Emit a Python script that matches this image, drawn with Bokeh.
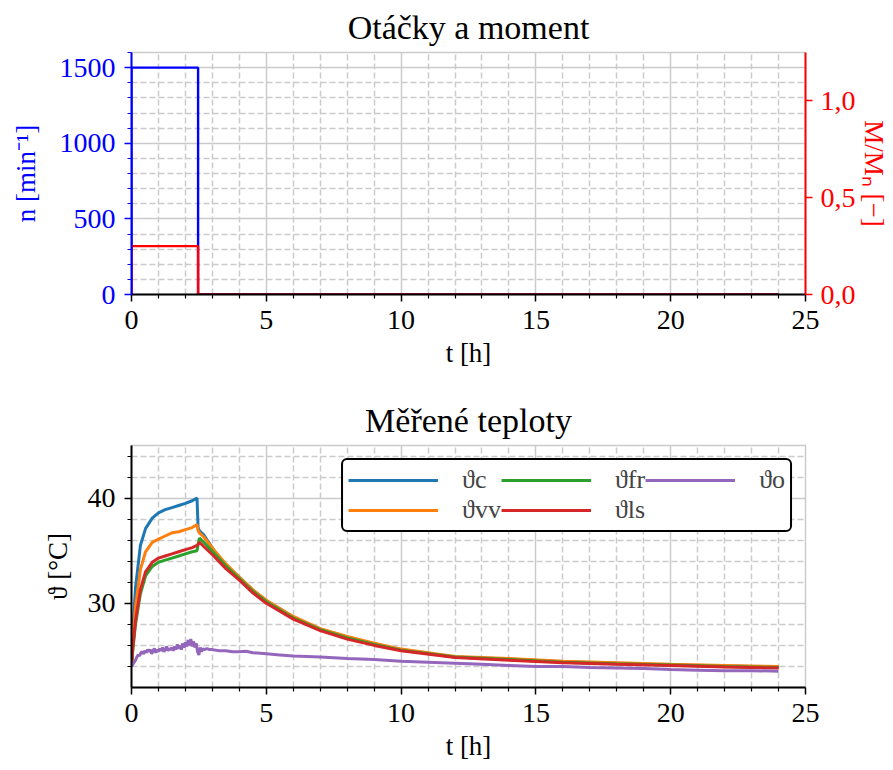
from bokeh.plotting import figure
from bokeh.models import (Range1d, LinearAxis, FixedTicker, Legend, LegendItem,
                          CustomJSTickFormatter)
from bokeh.layouts import column
from bokeh.embed import file_html
from bokeh.resources import INLINE

FONT = "Liberation Serif"
GRID = "#cbcbcb"

# ---------------- data: speed & torque ----------------
t_n = [0.0, 0.0, 2.47, 2.47, 24.0]
n_rpm = [0, 1500, 1500, 0, 0]
t_m = [0.0, 0.0, 2.47, 2.47, 24.0]
m_rel = [0.0, 0.25, 0.25, 0.0, 0.0]

# ---------------- data: temperatures ----------------
t_main = [0.0, 0.05, 0.15, 0.33, 0.52, 0.77, 1.0, 1.25, 1.5, 1.75, 2.0, 2.25, 2.43,
          2.47, 2.52, 2.68, 3.05, 3.5, 4.0, 4.5, 5.0, 6.0, 7.0, 8.0, 9.0, 10.0,
          12.0, 14.0, 16.0, 18.0, 20.0, 22.0, 24.0]
theta_c = [24.0, 27.5, 31.5, 35.5, 37.1, 38.1, 38.6, 38.9, 39.1, 39.3, 39.5, 39.75, 40.0,
           37.2, 36.9, 36.5, 35.05, 33.65, 32.45, 31.25, 30.25, 28.7, 27.55, 26.8, 26.15, 25.6,
           24.9, 24.7, 24.45, 24.3, 24.15, 24.05, 23.95]
theta_vv = [24.0, 26.5, 29.7, 33.2, 34.9, 35.8, 36.1, 36.4, 36.7, 36.8, 37.0, 37.2, 37.5,
            36.9, 36.7, 36.3, 35.1, 33.75, 32.5, 31.3, 30.3, 28.75, 27.6, 26.85, 26.2, 25.65,
            24.95, 24.75, 24.5, 24.35, 24.2, 24.1, 24.0]
theta_fr = [24.0, 25.6, 28.0, 30.9, 32.6, 33.5, 33.9, 34.1, 34.3, 34.5, 34.7, 34.9, 35.0,
            35.6, 36.2, 35.8, 34.8, 33.55, 32.35, 31.15, 30.15, 28.6, 27.5, 26.7, 26.1, 25.55,
            24.9, 24.65, 24.4, 24.25, 24.15, 24.0, 23.9]
theta_ls = [24.0, 25.8, 28.4, 31.3, 33.0, 33.9, 34.3, 34.5, 34.7, 34.9, 35.1, 35.3, 35.5,
            35.6, 35.8, 35.4, 34.5, 33.3, 32.2, 31.0, 30.0, 28.5, 27.4, 26.6, 26.0, 25.5,
            24.85, 24.6, 24.35, 24.2, 24.1, 23.95, 23.85]

t_o = [0.00, 0.05, 0.10, 0.15, 0.20, 0.25, 0.30, 0.35, 0.40, 0.45, 0.50, 0.55, 0.60,
       0.65, 0.70, 0.75, 0.80, 0.85, 0.90, 0.95, 1.00, 1.05, 1.10, 1.15, 1.20, 1.25,
       1.30, 1.35, 1.40, 1.45, 1.50, 1.55, 1.60, 1.65, 1.70, 1.75, 1.80, 1.85, 1.90,
       1.95, 2.00, 2.05, 2.10, 2.15, 2.20, 2.25, 2.30, 2.35, 2.40, 2.45, 2.50, 2.55,
       2.60, 2.65, 2.70, 2.80, 2.90, 3.0, 3.25, 3.5, 3.75, 4.0, 4.25, 4.5, 5.0, 5.5,
       6.0, 7.0, 8.0, 9.0, 10.0, 11.0, 12.0, 13.0, 14.0, 15.0, 16.0, 17.0, 18.0, 19.0,
       20.0, 21.0, 22.0, 23.0, 24.0]
theta_o = [24.0, 24.2, 24.4, 24.6, 24.9, 25.1, 25.0, 25.3, 25.4, 25.2, 25.5, 25.3, 25.6,
           25.4, 25.6, 25.2, 25.5, 25.7, 25.3, 25.6, 25.4, 25.7, 25.5, 25.8, 25.4, 25.6,
           25.9, 25.5, 25.7, 25.6, 25.8, 25.5, 25.9, 25.6, 26.1, 25.7, 26.0, 25.6, 26.2,
           25.8, 26.3, 25.9, 26.5, 26.0, 26.6, 25.9, 26.4, 25.8, 26.2, 25.4, 25.1, 25.8,
           25.4, 25.7, 25.6, 25.7, 25.6, 25.6, 25.5, 25.5, 25.4, 25.4, 25.45, 25.3, 25.2, 25.1,
           25.0, 24.9, 24.75, 24.65, 24.5, 24.4, 24.3, 24.2, 24.1, 24.0, 24.0, 23.9, 23.85, 23.8,
           23.7, 23.65, 23.6, 23.6, 23.55]

series = [("ϑc", theta_c, "#1f77b4"), ("ϑvv", theta_vv, "#ff7f0e"),
          ("ϑfr", theta_fr, "#2ca02c"), ("ϑls", theta_ls, "#d62728")]

x_major = [0, 5, 10, 15, 20, 25]
x_minor = [i for i in range(26) if i % 5]


def style_axis(ax, color="black", minor=True):
    ax.axis_line_color = color
    ax.axis_line_width = 2
    ax.major_tick_line_color = color
    ax.major_tick_line_width = 1.5
    ax.minor_tick_line_color = color
    ax.minor_tick_line_width = 1.2
    ax.major_tick_out = 7
    ax.major_tick_in = 0
    ax.minor_tick_out = 4 if minor else 0
    ax.minor_tick_in = 0
    ax.major_label_text_font = FONT
    ax.major_label_text_font_size = "28px"
    ax.major_label_text_color = color
    ax.major_label_standoff = 9
    ax.axis_label_text_font = FONT
    ax.axis_label_text_font_size = "27px"
    ax.axis_label_text_font_style = "normal"
    ax.axis_label_text_color = color
    ax.axis_label_standoff = 6


def style_fig(p):
    p.title.text_font = FONT
    p.title.text_font_size = "34px"
    p.title.text_font_style = "normal"
    p.title.text_color = "black"
    p.title.align = "center"
    p.title.standoff = 13
    p.outline_line_color = GRID
    p.outline_line_width = 1.5
    p.background_fill_color = "white"
    p.border_fill_color = "white"
    for g in (p.xgrid[0], p.ygrid[0]):
        g.grid_line_color = GRID
        g.grid_line_width = 1.5
        g.minor_grid_line_color = GRID
        g.minor_grid_line_width = 1.5
        g.minor_grid_line_dash = "6 3"


# ---------------- top figure ----------------
p1 = figure(width=893, height=390, x_range=Range1d(0, 25), y_range=Range1d(0, 1600),
            output_backend="svg", toolbar_location=None, title="Otáčky a moment",
            min_border_left=131, min_border_right=88, min_border_top=52, min_border_bottom=96)
p1.extra_y_ranges = {"m": Range1d(0, 1.25)}
p1.xaxis.ticker = FixedTicker(ticks=x_major, minor_ticks=x_minor)
p1.yaxis.ticker = FixedTicker(ticks=[0, 500, 1000, 1500],
                              minor_ticks=[v for v in range(0, 1601, 100) if v % 500])
p1.xaxis.axis_label = "t [h]"
p1.yaxis.axis_label = "n [min⁻¹]"
style_axis(p1.xaxis[0])
style_axis(p1.yaxis[0], color="#0000ff")
p1.yaxis[0].axis_label_standoff = 16
style_fig(p1)

rax = LinearAxis(y_range_name="m", ticker=FixedTicker(ticks=[0, 0.5, 1.0]),
                 formatter=CustomJSTickFormatter(code="return tick.toFixed(1).replace('.', ',');"),
                 axis_label="M/Mₙ [−]")
style_axis(rax, color="#ff0000", minor=False)
rax.major_label_standoff = 8
rax.axis_label_standoff = 0
p1.add_layout(rax, "right")

p1.line(t_n, n_rpm, line_color="#0000ff", line_width=2.4)
p1.line(t_m, m_rel, y_range_name="m", line_color="#ff0000", line_width=2.4)

# ---------------- bottom figure ----------------
p2 = figure(width=893, height=380, x_range=Range1d(0, 25), y_range=Range1d(22, 45),
            output_backend="svg", toolbar_location=None, title="Měřené teploty",
            min_border_left=131, min_border_right=88, min_border_top=55, min_border_bottom=83)
p2.xaxis.ticker = FixedTicker(ticks=x_major, minor_ticks=x_minor)
p2.yaxis.ticker = FixedTicker(ticks=[30, 40], minor_ticks=[24, 26, 28, 32, 34, 36, 38, 42, 44])
p2.xaxis.axis_label = "t [h]"
p2.yaxis.axis_label = "ϑ [°C]"
style_axis(p2.xaxis[0])
style_axis(p2.yaxis[0])
p2.yaxis[0].axis_label_standoff = 12
style_fig(p2)

items = []
for lab, ys, col in series:
    r = p2.line(t_main, ys, line_color=col, line_width=3)
    items.append(LegendItem(label=lab, renderers=[r]))
r_o = p2.line(t_o, theta_o, line_color="#9467bd", line_width=3)
items.append(LegendItem(label="ϑo", renderers=[r_o]))

legend = Legend(items=items, location="top_right", orientation="vertical", ncols=3)
legend.border_line_color = "black"
legend.border_line_width = 2
legend.border_line_alpha = 1
legend.background_fill_color = "white"
legend.background_fill_alpha = 1
legend.label_text_font = FONT
legend.label_text_font_size = "26px"
legend.glyph_width = 90
legend.glyph_height = 20
legend.label_standoff = 24
legend.spacing = 0
legend.padding = 5
legend.margin = 13
if "border_radius" in Legend.properties():
    legend.border_radius = 6
p2.add_layout(legend)

layout = column(p1, p2)
open("out.html", "w").write(file_html(layout, INLINE))
